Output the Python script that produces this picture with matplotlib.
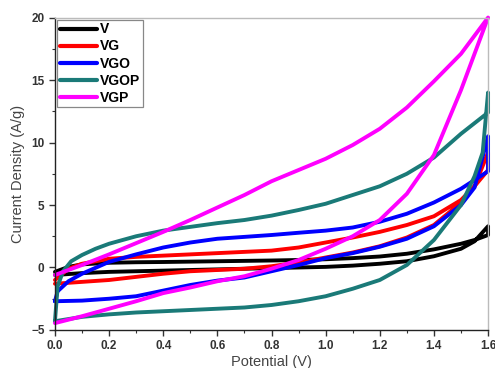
import matplotlib
matplotlib.use("Agg")
import matplotlib.pyplot as plt
from matplotlib.ticker import MultipleLocator

plt.rcParams['font.family'] = ['Liberation Sans', 'DejaVu Sans']

# ---- data ----
series_names = ["V", "VG", "VGO", "VGOP", "VGP"]
series_colors = ["#000000", "#ff0000", "#0000ff", "#1a7a78", "#ff00ff"]

# V (black): forward sweep then reverse sweep
v_fwd_x = [0.0, 0.1, 0.2, 0.3, 0.4, 0.5, 0.6, 0.7, 0.8, 0.9, 1.0, 1.1, 1.2, 1.3, 1.4, 1.5, 1.55, 1.6]
v_fwd_y = [-0.6, -0.45, -0.35, -0.3, -0.25, -0.2, -0.15, -0.1, -0.05, 0.0, 0.05, 0.15, 0.3, 0.5, 0.9, 1.5, 2.1, 3.3]
v_rev_x = [1.6, 1.55, 1.5, 1.4, 1.3, 1.2, 1.1, 1.0, 0.9, 0.8, 0.7, 0.6, 0.5, 0.4, 0.3, 0.2, 0.1, 0.05, 0.0]
v_rev_y = [2.6, 2.2, 1.9, 1.45, 1.1, 0.88, 0.75, 0.66, 0.6, 0.56, 0.53, 0.5, 0.47, 0.44, 0.42, 0.38, 0.25, 0.05, -0.35]

# VG (red)
vg_fwd_x = [0.0, 0.1, 0.2, 0.3, 0.4, 0.5, 0.6, 0.7, 0.8, 0.9, 1.0, 1.1, 1.2, 1.3, 1.4, 1.5, 1.55, 1.6]
vg_fwd_y = [-1.3, -1.15, -1.0, -0.75, -0.5, -0.3, -0.2, -0.1, 0.1, 0.4, 0.8, 1.2, 1.7, 2.4, 3.4, 5.2, 6.5, 9.2]
vg_rev_x = [1.6, 1.55, 1.5, 1.4, 1.3, 1.2, 1.1, 1.0, 0.9, 0.8, 0.7, 0.6, 0.5, 0.4, 0.3, 0.2, 0.1, 0.05, 0.0]
vg_rev_y = [7.8, 6.5, 5.4, 4.1, 3.4, 2.85, 2.4, 2.0, 1.6, 1.35, 1.25, 1.15, 1.05, 0.95, 0.85, 0.7, 0.3, -0.1, -1.0]

# VGO (blue)
vgo_fwd_x = [0.0, 0.1, 0.2, 0.3, 0.4, 0.5, 0.6, 0.7, 0.8, 0.9, 1.0, 1.1, 1.2, 1.3, 1.4, 1.5, 1.55, 1.6]
vgo_fwd_y = [-2.7, -2.65, -2.5, -2.3, -1.85, -1.4, -1.05, -0.8, -0.3, 0.2, 0.75, 1.15, 1.66, 2.3, 3.3, 5.0, 6.4, 10.5]
vgo_rev_x = [1.6, 1.55, 1.5, 1.4, 1.3, 1.2, 1.1, 1.0, 0.9, 0.8, 0.7, 0.6, 0.5, 0.4, 0.3, 0.2, 0.1, 0.05, 0.01, 0.0]
vgo_rev_y = [7.7, 7.0, 6.3, 5.2, 4.3, 3.66, 3.2, 2.95, 2.78, 2.6, 2.45, 2.3, 2.0, 1.6, 1.05, 0.45, -0.5, -1.1, -1.9, -2.7]

# VGOP (teal)
vgop_fwd_x = [0.0, 0.1, 0.2, 0.3, 0.4, 0.5, 0.6, 0.7, 0.8, 0.9, 1.0, 1.1, 1.2, 1.3, 1.4, 1.5, 1.55, 1.58, 1.6]
vgop_fwd_y = [-4.3, -3.95, -3.75, -3.6, -3.5, -3.4, -3.3, -3.2, -3.0, -2.7, -2.3, -1.7, -1.0, 0.2, 2.2, 5.0, 7.3, 9.2, 14.0]
vgop_rev_x = [1.6, 1.5, 1.4, 1.3, 1.2, 1.1, 1.0, 0.9, 0.8, 0.7, 0.6, 0.5, 0.4, 0.3, 0.2, 0.15, 0.1, 0.06, 0.03, 0.01, 0.0]
vgop_rev_y = [12.4, 10.7, 8.8, 7.5, 6.5, 5.8, 5.1, 4.6, 4.15, 3.8, 3.55, 3.25, 2.95, 2.5, 1.9, 1.5, 1.0, 0.5, -0.3, -1.5, -4.3]

# VGP (magenta)
vgp_fwd_x = [0.0, 0.1, 0.2, 0.3, 0.4, 0.5, 0.6, 0.7, 0.8, 0.9, 1.0, 1.1, 1.2, 1.3, 1.4, 1.5, 1.6]
vgp_fwd_y = [-4.45, -3.9, -3.3, -2.7, -2.05, -1.6, -1.1, -0.7, -0.1, 0.6, 1.5, 2.5, 3.8, 5.9, 9.0, 14.2, 20.0]
vgp_rev_x = [1.6, 1.5, 1.4, 1.3, 1.2, 1.1, 1.0, 0.9, 0.8, 0.7, 0.6, 0.5, 0.4, 0.3, 0.2, 0.1, 0.0]
vgp_rev_y = [20.0, 17.1, 14.9, 12.8, 11.1, 9.8, 8.7, 7.8, 6.9, 5.8, 4.8, 3.8, 2.85, 1.95, 1.05, 0.2, -0.6]

curves = [
    (v_fwd_x + v_rev_x, v_fwd_y + v_rev_y),
    (vg_fwd_x + vg_rev_x, vg_fwd_y + vg_rev_y),
    (vgo_fwd_x + vgo_rev_x, vgo_fwd_y + vgo_rev_y),
    (vgop_fwd_x + vgop_rev_x, vgop_fwd_y + vgop_rev_y),
    (vgp_fwd_x + vgp_rev_x, vgp_fwd_y + vgp_rev_y),
]

x_ticks = [0.0, 0.2, 0.4, 0.6, 0.8, 1.0, 1.2, 1.4, 1.6]
y_ticks = [-5, 0, 5, 10, 15, 20]

# ---- figure ----
fig = plt.figure(figsize=(4.95, 3.68), dpi=100)
ax = fig.add_axes([0.111, 0.1033, 0.875, 0.849])

for (xs, ys), name, col in zip(curves, series_names, series_colors):
    ax.plot(xs, ys, color=col, lw=2.8, label=name, solid_joinstyle='round',
            solid_capstyle='round', clip_on=False)

ax.set_xlim(0, 1.6)
ax.set_ylim(-5, 20)
ax.set_xticks(x_ticks)
ax.set_xticklabels([f"{t:.1f}" for t in x_ticks])
ax.set_yticks(y_ticks)
ax.xaxis.set_minor_locator(MultipleLocator(0.1))
ax.yaxis.set_minor_locator(MultipleLocator(2.5))

ax.tick_params(axis='both', which='major', direction='out', length=4, width=1,
               labelsize=8.5, colors='#333333')
ax.tick_params(axis='both', which='minor', direction='out', length=2.5, width=0.8,
               colors='#333333')
for lbl in ax.get_xticklabels() + ax.get_yticklabels():
    lbl.set_fontweight('bold')

ax.spines['left'].set_color('#222222')
ax.spines['bottom'].set_color('#222222')
ax.spines['top'].set_color('#bbbbbb')
ax.spines['right'].set_color('#bbbbbb')
for s in ax.spines.values():
    s.set_linewidth(1.0)

ax.set_xlabel("Potential (V)", fontsize=10.5, color='#444444', labelpad=2)
ax.set_ylabel("Current Density (A/g)", fontsize=10.5, color='#444444', labelpad=4)

leg = ax.legend(loc='upper left', bbox_to_anchor=(0.0, 1.0), fancybox=False,
                framealpha=1, edgecolor='#888888', borderpad=0.2, labelspacing=0.22,
                handlelength=2.7, handletextpad=0.2, borderaxespad=0.15,
                prop={'weight': 'bold', 'size': 10})
leg.get_frame().set_linewidth(0.9)
for line in leg.get_lines():
    line.set_linewidth(3)

fig.savefig("out.png", dpi=100)
